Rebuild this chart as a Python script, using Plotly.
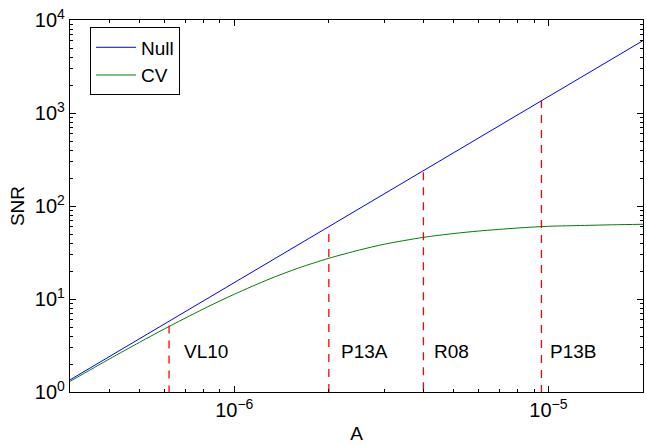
import math
import plotly.graph_objects as go

# Data
A_vals = [3e-7, 4e-7, 5e-7, 6e-7, 8e-7, 1e-6, 1.3e-6, 1.6e-6, 2e-6, 2.5e-6, 3e-6,
          4e-6, 5e-6, 6e-6, 8e-6, 1e-5, 1.3e-5, 1.6e-5, 2e-5]
snr_null = [1.35, 2.4, 3.75, 5.4, 9.6, 15, 25.4, 38.4, 60, 94, 135,
            240, 375, 540, 960, 1500, 2535, 3840, 6000]
snr_cv = [1.30, 2.26, 3.43, 4.78, 7.86, 11.25, 16.5, 21.5, 27.4, 33.6, 38.8,
          46.0, 50.6, 53.8, 58.0, 60.5, 61.8, 62.8, 63.6]

marker_names = ["VL10", "P13A", "R08", "P13B"]
marker_A = [6.2e-7, 2.0e-6, 4.0e-6, 9.5e-6]
marker_top = [5.2, 50, 230, 1380]
label_snr = 2.7

x_tickvals = [1e-6, 1e-5]
x_ticktext = ["10<sup>\u22126</sup>", "10<sup>\u22125</sup>"]
y_tickvals = [1, 10, 100, 1000, 10000]
y_ticktext = ["10<sup>0</sup>", "10<sup>1</sup>", "10<sup>2</sup>", "10<sup>3</sup>", "10<sup>4</sup>"]

FONT = "Liberation Sans, Arial, sans-serif"


def minor_vals(lo_exp, hi_exp):
    out = []
    for e in range(lo_exp, hi_exp + 1):
        for m in range(2, 10):
            out.append(m * 10 ** e)
    return out


fig = go.Figure()
fig.add_trace(go.Scatter(x=A_vals, y=snr_null, mode="lines", name="Null",
                         line=dict(color="#0000ff", width=1)))
fig.add_trace(go.Scatter(x=A_vals, y=snr_cv, mode="lines", name="CV",
                         line=dict(color="#008000", width=1, shape="spline", smoothing=0.8)))

for name, a, top in zip(marker_names, marker_A, marker_top):
    fig.add_trace(go.Scatter(x=[a, a], y=[top, 1], mode="lines", showlegend=False,
                             line=dict(color="#ff0000", width=1.3, dash="8px,7px")))

shifts = [13, 10, 9, 7]
for name, a, s in zip(marker_names, marker_A, shifts):
    fig.add_annotation(x=math.log10(a), y=math.log10(label_snr), text=name,
                       showarrow=False, xanchor="left", yanchor="middle", xshift=s,
                       font=dict(family=FONT, size=19, color="black"))

axis_common = dict(type="log", showgrid=False, zeroline=False, showline=True,
                   linecolor="black", linewidth=1.3, mirror="ticks",
                   ticks="inside", ticklen=6, tickwidth=1, tickcolor="black",
                   tickmode="array",
                   tickfont=dict(family=FONT, size=20, color="black"))

fig.update_xaxes(**axis_common, range=[math.log10(3e-7), math.log10(2e-5)],
                 tickvals=x_tickvals, ticktext=x_ticktext,
                 minor=dict(ticks="inside", ticklen=3, tickwidth=1, tickcolor="black",
                            tickmode="array", tickvals=minor_vals(-7, -5), showgrid=False),
                 title=dict(text="A", font=dict(family=FONT, size=19, color="black"),
                            standoff=6))
fig.update_yaxes(**axis_common, range=[0, 4],
                 tickvals=y_tickvals, ticktext=y_ticktext,
                 minor=dict(ticks="inside", ticklen=3, tickwidth=1, tickcolor="black",
                            tickmode="array", tickvals=minor_vals(0, 3), showgrid=False),
                 title=dict(text="SNR", font=dict(family=FONT, size=19, color="black"),
                            standoff=5))

fig.update_layout(
    width=646, height=445,
    margin=dict(l=70, r=3, t=20, b=53),
    paper_bgcolor="white", plot_bgcolor="white",
    font=dict(family=FONT, size=19, color="black"),
    legend=dict(x=0.035, y=0.98, xanchor="left", yanchor="top",
                bgcolor="white", bordercolor="black", borderwidth=1,
                font=dict(family=FONT, size=19, color="black"),
                tracegroupgap=0, itemwidth=40),
    showlegend=True,
)

fig.write_html("out.html")
